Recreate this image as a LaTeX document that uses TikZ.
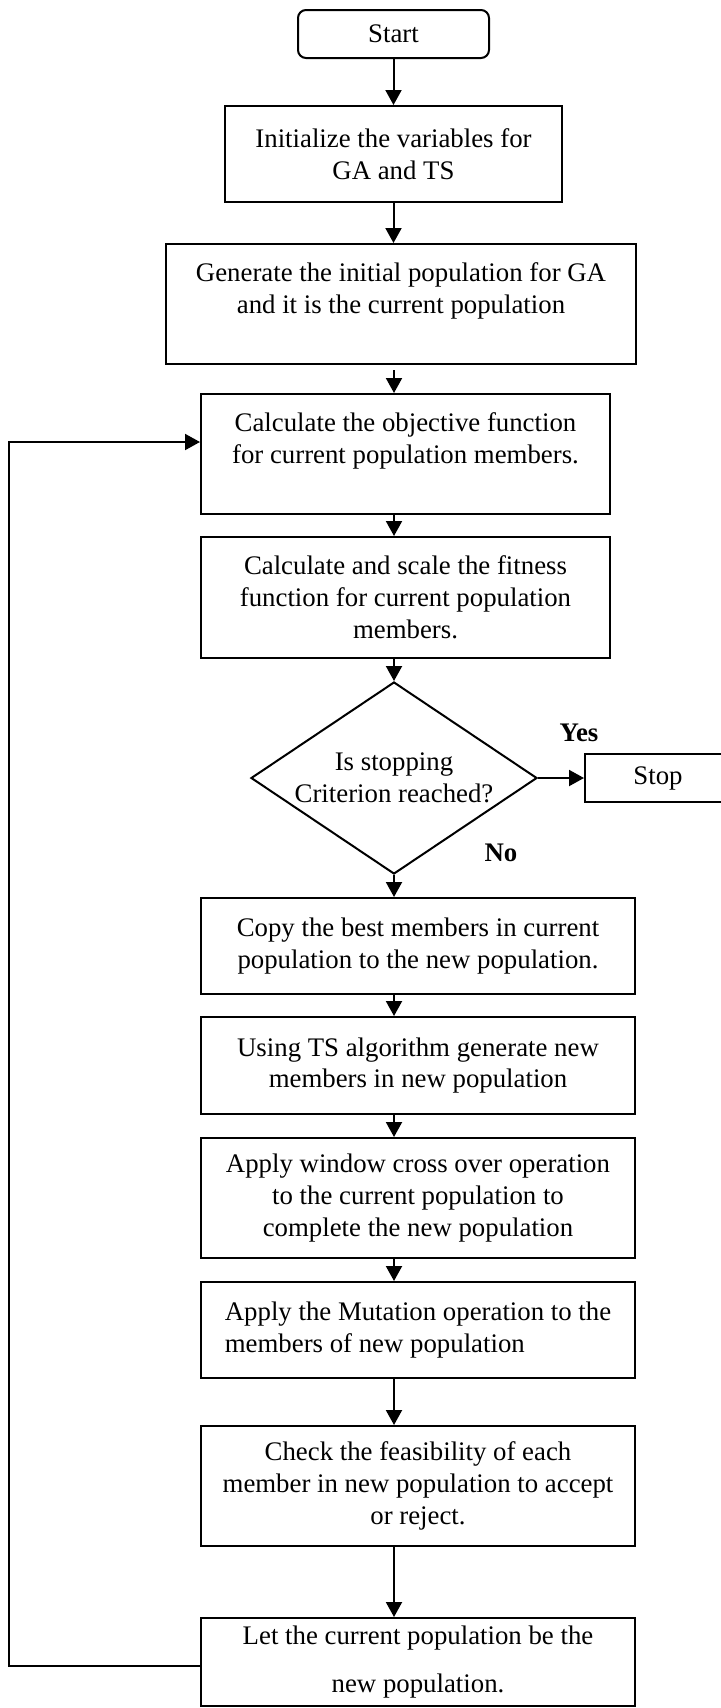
\documentclass[tikz,border=0pt]{standalone}
\usepackage{fontspec}
\setmainfont{Liberation Serif}
\usetikzlibrary{shapes.geometric, arrows.meta}
\newcommand{\boxfont}{\fontsize{13.4}{15.9}\selectfont}

\begin{document}
\begin{tikzpicture}[
	x=0.5pt, y=-0.5pt,
	b/.style = {rectangle, draw, line width=1pt, align=center, inner sep=2pt, font=\boxfont},
	s/.style = {rectangle, draw, line width=1pt, rounded corners=4pt, font=\boxfont},
	d/.style = {diamond, draw, line width=1pt, aspect=1.5, inner sep=0pt, align=center, font=\boxfont},
	r/.style = {-{Triangle[length=7.5pt, width=8pt]}, line width=1pt},
	l/.style = {font=\boxfont\bfseries}
	]
	
	\useasboundingbox (0, 0) rectangle (721, 1708);
	
	% ===== ===== ===== ===== =====
	
	% Nodes
	\node[s]	(start)	at	(393.5, 34)	[minimum width=95.5pt, minimum height=24pt]	{Start};
	\node[b]	(init)	at	(393.5, 154)	[minimum width=168.5pt, minimum height=48pt]	{Initialize the variables for\\GA and TS};
	\node[b]	(gen)	at	(401, 304)	[minimum width=235pt, minimum height=60pt]	{Generate the initial population for GA\\and it is the current population\\ \mbox{}};
	\node[b]	(calc)	at	(405.5, 454)	[minimum width=204.5pt, minimum height=60pt]	{Calculate the objective function\\for current population members.\\ \mbox{}};
	\node[b]	(fit)	at	(405.5, 597.5)	[minimum width=204.5pt, minimum height=60.5pt]	{Calculate and scale the fitness\\function for current population\\members.};
	\node[d]	(dec)	at	(394, 778)	[minimum width=143pt, minimum height=96pt]	{Is stopping\\Criterion reached?};
	\node[b]	(stop)	at	(658, 778)	[minimum width=73pt, minimum height=24pt]	{Stop};
	
	\node[l]	(yes)	at	(579, 733)	{Yes};
	\node[l]	(no)	at	(501, 853)	{No};
	
	% ===== ===== ===== ===== =====
	
	% Nodes
	\node[b]	(copy)	at	(418, 946)	[minimum width=217pt, minimum height=48pt]	{Copy the best members in current\\population to the new population.};
	\node[b]	(ts)	at	(418, 1065.5)	[minimum width=217pt, minimum height=48.5pt]	{Using TS algorithm generate new\\members in new population};
	\node[b]	(cross)	at	(418, 1198)	[minimum width=217pt, minimum height=60pt]	{Apply window cross over operation\\to the current population to\\complete the new population};
	\node[b]	(mut)	at	(418, 1330)	[minimum width=217pt, minimum height=48pt, align=left]	{Apply the Mutation operation to the\\members of new population};
	\node[b]	(chk)	at	(418, 1486)	[minimum width=217pt, minimum height=60pt]	{Check the feasibility of each\\member in new population to accept\\or reject.};
	\node[b]	(let)	at	(418, 1662)	[minimum width=217pt, minimum height=44pt]	{Let the current population be the\\[8pt]new population.};
	
	% ===== ===== ===== ===== =====
	
	% Lines
	\draw[r]	(start.south)	--	(start.south |- init.north);
	\draw[r]	(init.south)	--	(init.south |- gen.north);
	\draw[r, shorten <=2.5pt]	(dec.north |- gen.south)	--	(dec.north |- calc.north);
	\draw[r]	(dec.north |- calc.south)	--	(dec.north |- fit.north);
	\draw[r]	(dec.north |- fit.south)	--	(dec.north);
	\draw[r]	(dec.east)	--	(stop.west);
	\draw[r]	(dec.south)	--	(dec.south |- copy.north);
	\draw[r]	(dec.south |- copy.south)	--	(dec.south |- ts.north);
	\draw[r]	(dec.south |- ts.south)	--	(dec.south |- cross.north);
	\draw[r]	(dec.south |- cross.south)	--	(dec.south |- mut.north);
	\draw[r]	(dec.south |- mut.south)	--	(dec.south |- chk.north);
	\draw[r]	(dec.south |- chk.south)	--	(dec.south |- let.north);
	
	% back to the objective function
	\draw[r]	([yshift=-2pt]let.west)	--	++(-191, 0)	|-	([yshift=6pt]calc.west);
	
\end{tikzpicture}
\end{document}
